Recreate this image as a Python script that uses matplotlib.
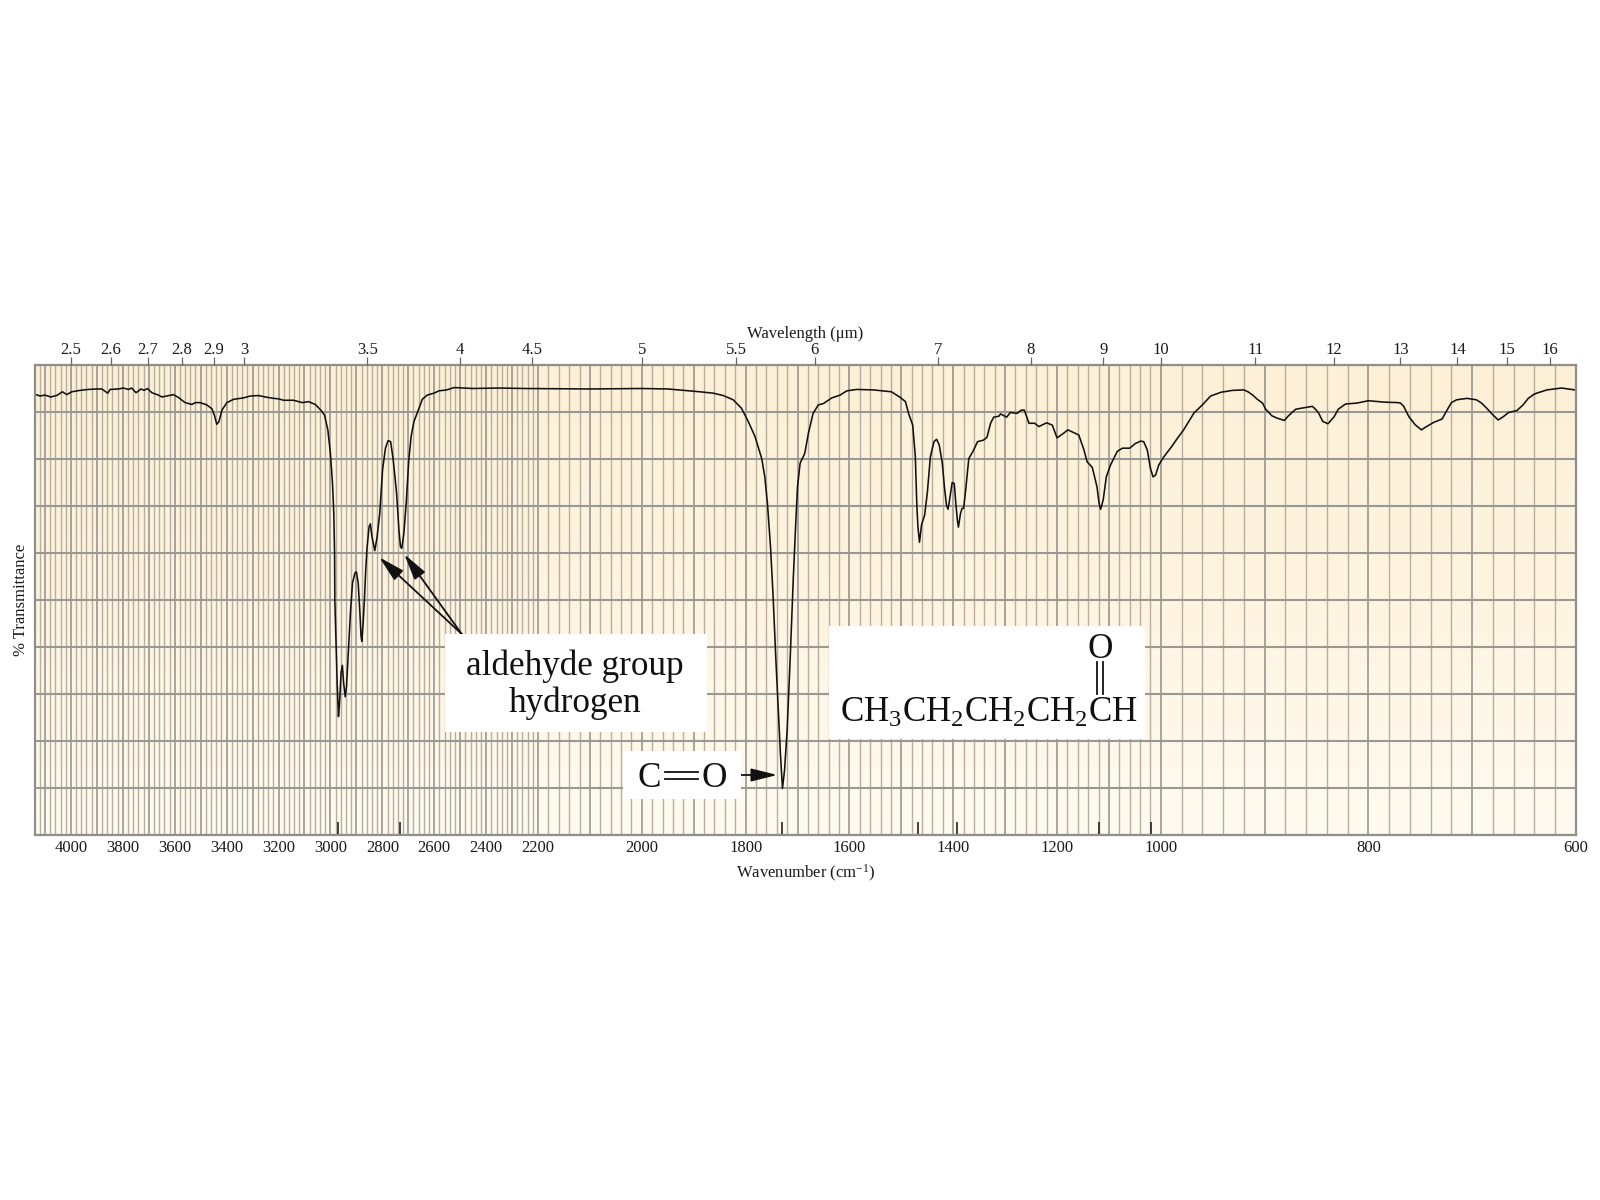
import numpy as np
import matplotlib
matplotlib.use("Agg")
import matplotlib.pyplot as plt
from matplotlib.colors import LinearSegmentedColormap
from matplotlib.lines import Line2D
from matplotlib.patches import Rectangle

plt.rcParams['font.family'] = ['Liberation Serif', 'DejaVu Serif']
plt.rcParams['mathtext.fontset'] = 'custom'
plt.rcParams['mathtext.rm'] = 'Liberation Serif'
plt.rcParams['mathtext.it'] = 'Liberation Serif:italic'
plt.rcParams['mathtext.bf'] = 'Liberation Serif:bold'

# ============================================
# Data
# ============================================

wavenumber = [
    4139, 4119, 4100, 4078, 4055, 4033, 4016, 3997, 3965, 3933, 3901, 3881, 3858, 3849, 3817,
    3798, 3778, 3766, 3749, 3730, 3718, 3705, 3688, 3663, 3650, 3631, 3605, 3586, 3560, 3534,
    3521, 3502, 3476, 3457, 3447, 3438, 3430, 3418, 3399, 3373, 3335, 3309, 3277, 3251, 3219,
    3200, 3180, 3142, 3109, 3084, 3058, 3039, 3023, 3010, 3000, 2992, 2987, 2984, 2983, 2978,
    2974, 2969, 2965, 2959, 2954, 2949, 2943, 2938, 2931, 2923, 2915, 2906, 2900, 2893, 2887,
    2882, 2879, 2874, 2869, 2864, 2859, 2851, 2846, 2840, 2829, 2820, 2810, 2799, 2788, 2778,
    2768, 2758, 2745, 2736, 2730, 2725, 2717, 2708, 2698, 2689, 2678, 2662, 2646, 2627, 2601,
    2582, 2552, 2523, 2450, 2350, 2250, 2100, 2000, 1950, 1888, 1862, 1843, 1824, 1808, 1795,
    1782, 1769, 1763, 1758, 1752, 1747, 1742, 1736, 1733, 1729, 1725, 1720, 1714, 1708, 1704,
    1700, 1695, 1686, 1679, 1670, 1660, 1650, 1634, 1618, 1605, 1586, 1554, 1519, 1502, 1492,
    1486, 1478, 1473, 1470, 1468, 1465, 1461, 1455, 1450, 1444, 1437, 1432, 1427, 1421, 1417,
    1413, 1410, 1407, 1402, 1398, 1395, 1392, 1390, 1386, 1383, 1380, 1376, 1370, 1362, 1353,
    1342, 1335, 1328, 1322, 1312, 1309, 1297, 1290, 1277, 1269, 1263, 1254, 1243, 1235, 1220,
    1209, 1200, 1187, 1179, 1158, 1148, 1142, 1132, 1123, 1119, 1116, 1111, 1105, 1097, 1084,
    1074, 1060, 1049, 1039, 1033, 1026, 1020, 1015, 1010, 1004, 997, 990, 984, 978,
    968, 960, 952, 942, 931, 920, 916, 912, 907, 902, 899, 896, 893, 888, 881, 877, 870, 862,
    854, 851, 848, 844, 839, 837, 833, 829, 822, 811, 800, 785, 772, 769, 766, 761, 755, 749,
    744, 737, 729, 724, 720, 715, 705, 696, 691, 686, 681, 675, 670, 665, 657, 651, 646, 641,
    638, 628, 614, 601,
]
transmittance = [
    93.8, 93.4, 93.6, 93.2, 93.5, 94.3, 93.7, 94.3, 94.6, 94.8, 94.9, 94.9, 94.0, 94.8, 94.9,
    95.1, 94.8, 95.1, 94.1, 94.9, 94.6, 95.0, 94.1, 93.6, 93.2, 93.4, 93.7, 93.1, 92.0, 91.6,
    92.0, 92.0, 91.5, 90.7, 89.3, 87.4, 87.9, 90.4, 92.0, 92.7, 93.0, 93.4, 93.5, 93.2, 92.9,
    92.8, 92.5, 92.5, 92.0, 92.2, 91.6, 90.5, 89.4, 86.2, 81.2, 74.8, 68.4, 60.0, 50.0, 40.0,
    32.3, 25.2, 28.0, 34.5, 36.1, 32.3, 29.4, 31.6, 38.7, 47.2, 53.6, 55.7, 56.0, 53.6, 47.9,
    42.3, 41.2, 45.1, 50.1, 56.5, 61.0, 65.6, 66.2, 63.5, 60.5, 63.5, 68.4, 77.7, 82.3, 83.9,
    83.7, 79.8, 72.7, 64.9, 61.3, 61.0, 64.2, 70.6, 79.8, 84.8, 88.0, 90.3, 92.7, 93.6, 94.0,
    94.5, 94.7, 95.2, 95.0, 95.1, 95.0, 94.9, 95.0, 94.9, 94.3, 94.0, 93.5, 92.6, 90.8, 88.0,
    84.8, 80.1, 76.2, 70.6, 61.3, 50.7, 38.0, 24.5, 17.4, 9.9, 13.8, 22.3, 37.9, 55.0, 64.9,
    74.1, 79.1, 81.2, 85.5, 89.7, 91.5, 91.8, 93.0, 93.6, 94.5, 94.8, 94.7, 94.3, 93.1, 92.2,
    89.7, 87.2, 80.5, 69.9, 65.6, 62.3, 66.0, 68.1, 72.7, 80.5, 83.7, 84.2, 83.0, 79.1, 74.1,
    70.2, 69.3, 71.3, 75.0, 74.8, 70.6, 67.0, 65.5, 68.4, 69.5, 69.5, 73.4, 80.1, 81.6, 83.7,
    84.0, 84.6, 87.6, 88.9, 89.1, 89.6, 88.9, 89.9, 89.7, 90.4, 90.4, 87.6, 87.6, 86.9, 87.7,
    87.2, 84.5, 85.5, 86.2, 85.1, 81.9, 79.4, 78.2, 74.1, 70.6, 69.3, 71.3, 76.2, 78.7, 81.6,
    82.3, 82.3, 83.3, 83.8, 83.7, 81.9, 78.0, 76.2, 76.6, 78.7, 80.5, 82.5, 84.4, 86.2,
    89.8, 91.5, 93.4, 94.2, 94.6, 94.7, 94.3, 93.7, 92.7, 91.9, 90.6, 89.9, 89.2, 88.7, 88.2, 89.2, 90.6, 90.9,
    91.2, 90.6, 89.8, 88.0, 87.5, 88.0, 89.0, 90.6, 91.7, 91.9, 92.4, 92.1, 92.0, 91.9, 91.2, 89.0, 87.3, 86.2,
    86.9, 87.8, 88.5, 90.5, 92.0, 92.6, 92.9, 92.6, 91.9, 90.8, 89.6, 88.3, 89.0, 89.9, 90.3, 91.5, 92.9, 93.7,
    94.0, 94.7, 95.1, 94.7,
]

# short marks along the bottom edge, under the labelled bands
peak_marks = [2970, 2733, 1729, 1467, 1393, 1120, 1018]

wavenumber_labels = [4000, 3800, 3600, 3400, 3200, 3000, 2800, 2600, 2400, 2200,
                     2000, 1800, 1600, 1400, 1200, 1000, 800, 600]
wavelengths = [2.5, 2.6, 2.7, 2.8, 2.9, 3, 3.5, 4, 4.5, 5, 5.5, 6, 7, 8, 9, 10,
               11, 12, 13, 14, 15, 16]


# ============================================
# Wavenumber scale, stretched 2x below 2200 and 4x below 1000
# ============================================

scale_wn = [0, 1000, 2200, 5000]
scale_pos = [0, 4000, 6400, 9200]


def wn_to_pos(v):
    return np.interp(v, scale_wn, scale_pos)


def pos_to_wn(v):
    return np.interp(v, scale_pos, scale_wn)


def figxy(x, y):
    # reference pixels to figure fraction
    return x / 1600, 1 - y / 1200


# ============================================
# Plot
# ============================================

fig = plt.figure(figsize=(16, 12), dpi=100)
rect = [34.6 / 1600, 365 / 1200, 1541.4 / 1600, 470 / 1200]

# paper background
bg = fig.add_axes(rect, zorder=-1)
paper = LinearSegmentedColormap.from_list("paper", ["#FDF0D6", "#FEF4E0", "#FFFBF1"])
bg.imshow(np.linspace(0, 1, 200).reshape(-1, 1), cmap=paper, aspect="auto")
bg.axis("off")

ax = fig.add_axes(rect)
ax.patch.set_alpha(0)
ax.set_xscale("function", functions=(wn_to_pos, pos_to_wn))
ax.set_xlim(4140, 600)
ax.set_ylim(0, 100)

major_x = list(range(600, 4140, 100))
minor_x = [v for v in range(600, 4140, 20) if v % 100 != 0]
ax.set_xticks(major_x)
ax.set_xticklabels([str(v) if v in wavenumber_labels else "" for v in major_x], fontsize=12)
ax.set_xticks(minor_x, minor=True)
ax.set_yticks(range(0, 101, 10))
ax.set_yticks(range(5, 100, 10), minor=True)
ax.set_yticklabels([])
ax.tick_params(which="both", length=0)
ax.tick_params(axis="x", pad=3.3, labelcolor="#1a1a1a")

ax.xaxis.grid(True, which="minor", color="#B6AF9F", linewidth=1.0)
ax.xaxis.grid(True, which="major", color="#8E8E8B", linewidth=1.1)
ax.yaxis.grid(True, which="minor", color="#989896", linewidth=1.0)
ax.yaxis.grid(True, which="major", color="#989896", linewidth=1.5)
ax.set_axisbelow(True)
for spine in ax.spines.values():
    spine.set_color("#8E8E8B")
    spine.set_linewidth(1.6)

ax.plot(wavenumber, transmittance, color="#111111", linewidth=1.15, solid_joinstyle="round")
ax.vlines(peak_marks, 0, 2.8, color="#222222", linewidth=1.2)

ax.set_xlabel(r"Wavenumber (cm$^{-1}$)", fontsize=12, labelpad=5, color="#1a1a1a")
ax.set_ylabel("% Transmittance", fontsize=12, labelpad=4, color="#1a1a1a")
ax.yaxis.set_label_coords(-0.0038, 0.5)

# wavelength axis on top
top = ax.twiny()
top.set_xscale("function", functions=(wn_to_pos, pos_to_wn))
top.set_xlim(4140, 600)
top.set_xticks([10000 / w for w in wavelengths])
top.set_xticklabels([str(w) for w in wavelengths], fontsize=12, color="#1a1a1a")
top.minorticks_off()
top.tick_params(axis="x", length=5.8, width=0.9, color="#666666", pad=-0.5)
top.set_xlabel("Wavelength (\u03bcm)", fontsize=12, labelpad=2.8, color="#1a1a1a")
for spine in top.spines.values():
    spine.set_visible(False)

# ============================================
# White label boxes
# ============================================

boxes = [(445, 634, 706.7, 731.7), (623, 750.7, 740.7, 799.3), (829, 626, 1145, 739)]
for x0, y0, x1, y1 in boxes:
    fx0, fy0 = figxy(x0, y1)
    fx1, fy1 = figxy(x1, y0)
    fig.add_artist(Rectangle((fx0, fy0), fx1 - fx0, fy1 - fy0, transform=fig.transFigure,
                             facecolor="white", edgecolor="none", zorder=5))


def label(x, y, s, ha="center", size=25.3):
    fx, fy = figxy(x, y)
    fig.text(fx, fy, s, ha=ha, va="baseline", fontsize=size, color="#111111", zorder=6)


def bond(x0, y0, x1, y1):
    fx0, fy0 = figxy(x0, y0)
    fx1, fy1 = figxy(x1, y1)
    fig.add_artist(Line2D([fx0, fx1], [fy0, fy1], transform=fig.transFigure,
                          color="#111111", linewidth=1.3, zorder=6))


def arrow(x0, y0, x1, y1):
    top.annotate("", xy=figxy(x1, y1), xytext=figxy(x0, y0),
                 xycoords="figure fraction", textcoords="figure fraction",
                 arrowprops=dict(arrowstyle="-|>,head_length=0.8,head_width=0.2",
                                 color="#111111", linewidth=1.3, mutation_scale=20,
                                 shrinkA=0, shrinkB=0))


label(575, 675, "aldehyde group")
label(575, 711.7, "hydrogen")
arrow(461.7, 634, 379.3, 557.3)
arrow(461.7, 634, 404.3, 554.3)

label(649, 786.7, "C")
label(714, 786.7, "O")
bond(665, 771.7, 698, 771.7)
bond(665, 779, 698, 779)
arrow(736, 775, 777.3, 775)

label(840, 721.7, r"CH$_3$CH$_2$CH$_2$CH$_2$CH", ha="left", size=25.2)
label(1100, 658, "O")
bond(1096.7, 661.7, 1096.7, 694)
bond(1102.7, 661.7, 1102.7, 694)

# Save graph
plt.savefig("out.png", dpi=100)
